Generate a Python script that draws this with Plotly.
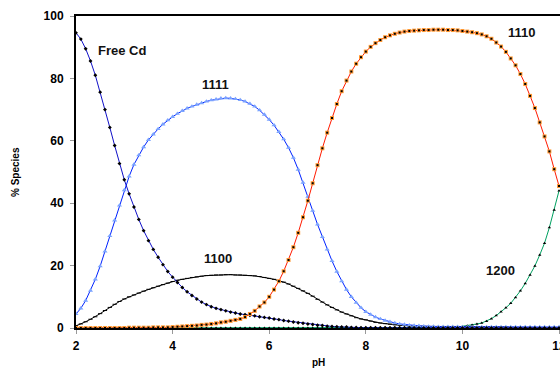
import plotly.graph_objects as go

pH = [round(2 + 0.1 * i, 1) for i in range(101)]

free_cd = [94.6, 92.6, 89.5, 85.6, 81.0, 75.6, 70.0, 64.3, 58.5, 52.7,
           47.5, 43.0, 38.8, 34.8, 31.2, 28.0, 25.2, 22.7, 20.3, 18.1,
           16.3, 14.6, 13.0, 11.6, 10.4, 9.3, 8.3, 7.5, 6.8, 6.3,
           5.9, 5.5, 5.1, 4.8, 4.5, 4.3, 4.1, 3.9, 3.6, 3.4,
           3.2, 2.9, 2.7, 2.4, 2.2, 1.9, 1.7, 1.5, 1.3, 1.1,
           0.9, 0.8, 0.6, 0.5, 0.4, 0.3, 0.3, 0.2, 0.2, 0.1,
           0.1, 0.1, 0.1, 0.1, 0.1, 0.1, 0.1, 0.1, 0.1, 0.1,
           0.0, 0.0, 0.0, 0.0, 0.0, 0.0, 0.0, 0.0, 0.0, 0.0,
           0.0, 0.0, 0.0, 0.0, 0.0, 0.0, 0.0, 0.0, 0.0, 0.0,
           0.0, 0.0, 0.0, 0.0, 0.0, 0.0, 0.0, 0.0, 0.0, 0.0,
           0.0]

s1111 = [4.5, 6.3, 8.8, 12.0, 15.6, 19.8, 24.6, 29.5, 34.5, 39.3,
         44.2, 48.6, 52.4, 55.4, 58.0, 60.3, 62.1, 63.8, 65.3, 66.6,
         67.7, 68.7, 69.6, 70.4, 71.0, 71.6, 72.1, 72.6, 73.0, 73.3,
         73.6, 73.7, 73.6, 73.4, 73.1, 72.6, 71.9, 71.0, 69.8, 68.4,
         66.8, 65.0, 62.9, 60.5, 57.8, 54.6, 50.8, 46.6, 42.1, 37.6,
         33.2, 29.2, 25.2, 21.5, 18.1, 15.0, 12.3, 10.0, 8.1, 6.5,
         5.2, 4.3, 3.5, 2.9, 2.4, 2.0, 1.6, 1.3, 1.1, 0.9,
         0.8, 0.7, 0.6, 0.5, 0.5, 0.4, 0.4, 0.4, 0.4, 0.4,
         0.3, 0.3, 0.3, 0.3, 0.3, 0.3, 0.3, 0.3, 0.3, 0.3,
         0.3, 0.3, 0.3, 0.3, 0.3, 0.3, 0.3, 0.3, 0.3, 0.3,
         0.3]

s1100 = [0.7, 1.3, 2.0, 2.8, 3.6, 4.6, 5.6, 6.6, 7.6, 8.5,
         9.3, 10.0, 10.6, 11.2, 11.8, 12.4, 12.9, 13.4, 13.9, 14.4,
         14.9, 15.3, 15.6, 15.9, 16.2, 16.4, 16.6, 16.8, 16.9, 17.0,
         17.0, 17.1, 17.1, 17.0, 17.0, 16.9, 16.8, 16.7, 16.5, 16.2,
         15.9, 15.6, 15.2, 14.7, 14.1, 13.4, 12.7, 11.9, 11.1, 10.2,
         9.2, 8.3, 7.4, 6.6, 5.8, 5.1, 4.5, 3.9, 3.3, 2.9,
         2.6, 2.2, 1.8, 1.6, 1.4, 1.2, 1.0, 0.9, 0.8, 0.7,
         0.6, 0.5, 0.5, 0.5, 0.5, 0.5, 0.5, 0.5, 0.5, 0.5,
         0.4, 0.4, 0.4, 0.4, 0.4, 0.3, 0.3, 0.3, 0.3, 0.3,
         0.2, 0.2, 0.2, 0.2, 0.2, 0.1, 0.1, 0.1, 0.1, 0.1,
         0.1]

s1110 = [0.0, 0.0, 0.0, 0.0, 0.0, 0.0, 0.0, 0.0, 0.0, 0.0,
         0.0, 0.1, 0.1, 0.1, 0.1, 0.1, 0.2, 0.2, 0.2, 0.2,
         0.3, 0.4, 0.5, 0.6, 0.7, 0.8, 1.0, 1.1, 1.3, 1.5,
         1.8, 2.0, 2.3, 2.6, 2.9, 3.5, 4.5, 5.5, 6.9, 8.2,
         10.0, 12.3, 15.0, 18.2, 21.8, 25.9, 30.5, 35.5, 40.8, 46.4,
         52.2, 57.6, 62.6, 67.3, 71.8, 75.9, 79.3, 82.2, 84.7, 86.8,
         88.6, 90.1, 91.3, 92.3, 93.2, 93.8, 94.3, 94.7, 95.0, 95.2,
         95.3, 95.4, 95.5, 95.5, 95.6, 95.6, 95.6, 95.5, 95.5, 95.4,
         95.2, 95.0, 94.8, 94.5, 94.1, 93.5, 92.7, 91.5, 90.2, 88.5,
         86.4, 84.2, 81.4, 78.2, 74.4, 70.5, 65.9, 61.4, 56.6, 50.9,
         45.5]

s1200 = [0.0, 0.0, 0.0, 0.0, 0.0, 0.0, 0.0, 0.0, 0.0, 0.0,
         0.0, 0.0, 0.0, 0.0, 0.0, 0.0, 0.0, 0.0, 0.0, 0.0,
         0.0, 0.0, 0.0, 0.0, 0.0, 0.0, 0.0, 0.0, 0.0, 0.0,
         0.0, 0.0, 0.0, 0.0, 0.0, 0.0, 0.0, 0.0, 0.0, 0.0,
         0.0, 0.0, 0.0, 0.0, 0.0, 0.0, 0.0, 0.0, 0.0, 0.0,
         0.0, 0.0, 0.0, 0.0, 0.0, 0.0, 0.0, 0.0, 0.0, 0.0,
         0.0, 0.0, 0.0, 0.0, 0.0, 0.0, 0.0, 0.0, 0.0, 0.0,
         0.0, 0.0, 0.0, 0.0, 0.0, 0.0, 0.1, 0.1, 0.2, 0.3,
         0.5, 0.7, 1.0, 1.3, 1.6, 2.2, 3.0, 4.0, 5.2, 6.5,
         7.9, 9.8, 11.9, 14.3, 17.0, 19.9, 23.4, 27.2, 32.2, 37.8,
         44.0]

x_ticks = [2, 4, 6, 8, 10, 12]
y_ticks = [0, 20, 40, 60, 80, 100]

labels = [("Free Cd", 2.95, 89.1), ("1111", 4.89, 78.0), ("1100", 4.93, 22.4),
          ("1110", 11.24, 94.6), ("1200", 10.78, 18.3)]

FONT = "Liberation Sans, Arial, sans-serif"

fig = go.Figure()

# 1200
fig.add_trace(go.Scatter(x=pH, y=s1200, mode="lines+markers",
                         line=dict(color="#00a060", width=1),
                         marker=dict(symbol="triangle-up", size=3, color="black")))
# 1100
fig.add_trace(go.Scatter(x=pH, y=s1100, mode="lines+markers",
                         line=dict(color="black", width=1),
                         marker=dict(symbol="line-ew", size=3, color="black",
                                     line=dict(color="black", width=1))))
# 1111
fig.add_trace(go.Scatter(x=pH, y=s1111, mode="lines+markers",
                         line=dict(color="#0022ff", width=1),
                         marker=dict(symbol="triangle-up", size=4.5, color="#7aa3ff")))
# Free Cd
fig.add_trace(go.Scatter(x=pH, y=free_cd, mode="lines+markers",
                         line=dict(color="#1010c8", width=1),
                         marker=dict(symbol="diamond", size=3, color="black")))
# 1110
fig.add_trace(go.Scatter(x=pH, y=s1110, mode="lines+markers",
                         line=dict(color="#ff1a00", width=1),
                         marker=dict(symbol="square", size=4, color="#ff9933")))
fig.add_trace(go.Scatter(x=pH, y=s1110, mode="markers",
                         marker=dict(symbol="square", size=2, color="black")))

for text, lx, ly in labels:
    fig.add_annotation(x=lx, y=ly, text=text, showarrow=False,
                       xanchor="center", yanchor="middle",
                       font=dict(family=FONT, size=13, color="#111111", weight="bold"))

fig.add_annotation(xref="paper", yref="paper", x=(318 - 76) / 484, y=-(362 - 328) / 312,
                   xanchor="center", yanchor="middle",
                   text="pH", showarrow=False,
                   font=dict(family=FONT, size=10, color="black", weight="bold"))
fig.add_annotation(xref="paper", yref="paper", x=-(76 - 15) / 484, y=0.5,
                   xanchor="center", yanchor="middle",
                   text="% Species", showarrow=False, textangle=-90,
                   font=dict(family=FONT, size=10, color="black", weight="bold"))

fig.update_layout(
    width=560, height=372,
    margin=dict(l=76, r=0, t=16, b=44, autoexpand=False),
    paper_bgcolor="white", plot_bgcolor="white",
    showlegend=False,
    font=dict(family=FONT, size=12, color="black"),
)
fig.update_xaxes(range=[2, 12.02], tickvals=x_ticks, showgrid=False, zeroline=False,
                 showline=True, linecolor="black", linewidth=2, mirror=True,
                 ticks="outside", ticklen=4, tickcolor="#999999",
                 ticklabelstandoff=2, ticklabeloverflow="allow", automargin=False,
                 tickfont=dict(family=FONT, size=12, weight="bold"))
fig.update_yaxes(range=[0, 100], tickvals=y_ticks, showgrid=False, zeroline=False,
                 showline=True, linecolor="black", linewidth=2, automargin=False,
                 ticks="outside", ticklen=4, tickcolor="#999999",
                 ticklabelstandoff=4,
                 tickfont=dict(family=FONT, size=12, weight="bold"))

fig.write_html("out.html")
